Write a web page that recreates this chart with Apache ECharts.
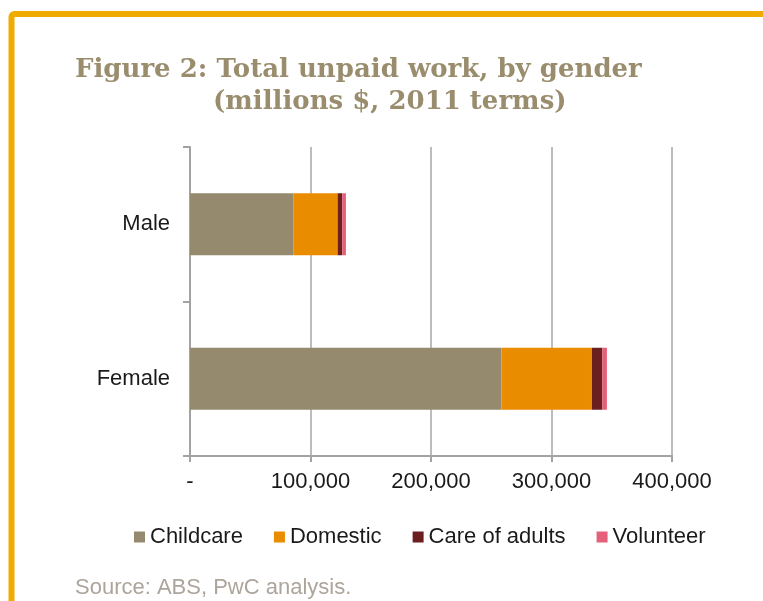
<!DOCTYPE html>
<html>
<head>
<meta charset="utf-8">
<script src="https://cdn.jsdelivr.net/npm/echarts@6/dist/echarts.min.js"></script>
<style>
  html, body { margin: 0; padding: 0; background: #fff; }
  #chart { width: 763px; height: 601px; }
</style>
</head>
<body>
<div id="chart"></div>
<script>
// Unpaid work by gender, millions of dollars (2011 terms)
const categories = ['Male', 'Female'];
const childcare = [85700, 258400];
const domestic = [36800, 75200];
const careOfAdults = [3800, 8600];
const volunteer = [3100, 3800];
const seriesNames = ['Childcare', 'Domestic', 'Care of adults', 'Volunteer'];
const seriesColors = ['#958A6D', '#EA8C00', '#6B1F1F', '#E5607A'];
const xTicks = [0, 100000, 200000, 300000, 400000];

const sans = '"Liberation Sans", Arial, sans-serif';
const serif = '"DejaVu Serif", Georgia, serif';

function fmtTick(v) {
  return v === 0 ? '-' : v.toLocaleString('en-US');
}

const seriesData = [childcare, domestic, careOfAdults, volunteer];

const chart = echarts.init(document.getElementById('chart'), null, { renderer: 'canvas' });
chart.setOption({
  animation: false,
  backgroundColor: '#ffffff',
  title: [
    {
      text: 'Figure 2: Total unpaid work, by gender',
      left: 70, top: 52,
      textStyle: { fontFamily: serif, fontWeight: 'bold', fontSize: 26, color: '#9A8D6E' }
    },
    {
      text: '(millions $, 2011 terms)',
      left: 208, top: 84,
      textStyle: { fontFamily: serif, fontWeight: 'bold', fontSize: 26, color: '#9A8D6E' }
    },
    {
      text: 'Source: ABS, PwC analysis.',
      left: 70, top: 572,
      textStyle: { fontFamily: sans, fontWeight: 'normal', fontSize: 22, color: '#ADA59C' }
    }
  ],
  graphic: [
    {
      type: 'rect',
      shape: { x: 11.5, y: 14, width: 820, height: 700, r: 3 },
      style: { fill: 'none', stroke: '#F0AB00', lineWidth: 6 },
      silent: true
    }
  ],
  legend: {
    data: seriesNames,
    left: 129,
    top: 521,
    icon: 'rect',
    itemWidth: 11,
    itemHeight: 11,
    itemGap: 31,
    textStyle: { fontFamily: sans, fontSize: 22, color: '#1a1a1a' }
  },
  grid: { left: 190, right: 91, top: 147, bottom: 145, containLabel: false },
  xAxis: {
    type: 'value',
    min: 0,
    max: 400000,
    interval: 100000,
    axisLine: { show: true, lineStyle: { color: '#A3A3A3', width: 2 } },
    axisTick: { show: true, length: 6, lineStyle: { color: '#A3A3A3', width: 2 } },
    splitLine: { show: true, lineStyle: { color: '#BDBDBD', width: 2 } },
    axisLabel: {
      margin: 15,
      fontFamily: sans, fontSize: 22, color: '#1a1a1a',
      formatter: fmtTick,
      customValues: xTicks
    }
  },
  yAxis: {
    type: 'category',
    inverse: true,
    data: categories,
    axisLine: { show: true, lineStyle: { color: '#A3A3A3', width: 2 } },
    axisTick: { show: true, length: 7, lineStyle: { color: '#A3A3A3', width: 2 } },
    axisLabel: { margin: 20, fontFamily: sans, fontSize: 22, color: '#1a1a1a' }
  },
  series: seriesNames.map((name, i) => ({
    name: name,
    type: 'bar',
    stack: 'total',
    barWidth: 62,
    itemStyle: { color: seriesColors[i] },
    data: seriesData[i]
  }))
});
</script>
</body>
</html>
